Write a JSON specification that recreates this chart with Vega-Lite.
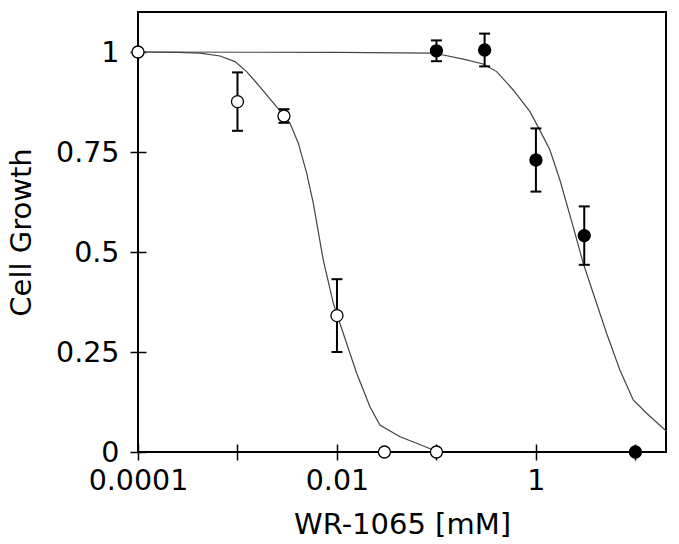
{
  "$schema": "https://vega.github.io/schema/vega-lite/v6.json",
  "width": 528,
  "height": 440,
  "autosize": {"type": "none"},
  "padding": {"left": 138, "top": 12, "right": 13, "bottom": 92},
  "background": "white",
  "config": {
    "view": {"stroke": "black", "strokeWidth": 2},
    "font": "DejaVu Sans",
    "axis": {
      "labelFont": "DejaVu Sans",
      "labelFontSize": 28.5,
      "labelColor": "black",
      "titleFont": "DejaVu Sans",
      "titleFontSize": 29,
      "titleFontWeight": "normal",
      "titleColor": "black",
      "tickColor": "black",
      "tickWidth": 1.5,
      "tickSize": 16,
      "offset": -8,
      "domain": false,
      "grid": false,
      "labelOverlap": false,
      "labelFlush": false
    }
  },
  "datasets": {
    "curves": [
      {"series": "open", "conc": 0.0001, "growth": 1.0},
      {"series": "open", "conc": 0.00025, "growth": 0.999},
      {"series": "open", "conc": 0.00042, "growth": 0.997},
      {"series": "open", "conc": 0.000667, "growth": 0.99},
      {"series": "open", "conc": 0.000944, "growth": 0.976},
      {"series": "open", "conc": 0.001236, "growth": 0.951},
      {"series": "open", "conc": 0.001683, "growth": 0.913},
      {"series": "open", "conc": 0.002477, "growth": 0.863},
      {"series": "open", "conc": 0.003373, "growth": 0.822},
      {"series": "open", "conc": 0.00409, "growth": 0.772},
      {"series": "open", "conc": 0.00496, "growth": 0.697},
      {"series": "open", "conc": 0.00578, "growth": 0.622},
      {"series": "open", "conc": 0.00728, "growth": 0.48},
      {"series": "open", "conc": 0.00918, "growth": 0.372},
      {"series": "open", "conc": 0.01156, "growth": 0.297},
      {"series": "open", "conc": 0.01578, "growth": 0.197},
      {"series": "open", "conc": 0.02146, "growth": 0.113},
      {"series": "open", "conc": 0.027, "growth": 0.0675},
      {"series": "open", "conc": 0.043, "growth": 0.038},
      {"series": "open", "conc": 0.0632, "growth": 0.022},
      {"series": "open", "conc": 0.1, "growth": 0.002},
      {"series": "filled", "conc": 0.0001, "growth": 1.0},
      {"series": "filled", "conc": 0.01, "growth": 0.999},
      {"series": "filled", "conc": 0.0861, "growth": 0.997},
      {"series": "filled", "conc": 0.117, "growth": 0.9925},
      {"series": "filled", "conc": 0.186, "growth": 0.982},
      {"series": "filled", "conc": 0.295, "growth": 0.97},
      {"series": "filled", "conc": 0.403, "growth": 0.951},
      {"series": "filled", "conc": 0.591, "growth": 0.905},
      {"series": "filled", "conc": 0.871, "growth": 0.851},
      {"series": "filled", "conc": 1.097, "growth": 0.804},
      {"series": "filled", "conc": 1.383, "growth": 0.755},
      {"series": "filled", "conc": 1.742, "growth": 0.68},
      {"series": "filled", "conc": 2.371, "growth": 0.563},
      {"series": "filled", "conc": 2.985, "growth": 0.472},
      {"series": "filled", "conc": 3.764, "growth": 0.397},
      {"series": "filled", "conc": 5.13, "growth": 0.297},
      {"series": "filled", "conc": 6.98, "growth": 0.205},
      {"series": "filled", "conc": 9.51, "growth": 0.13},
      {"series": "filled", "conc": 12.95, "growth": 0.097},
      {"series": "filled", "conc": 20.3, "growth": 0.053}
    ],
    "points": [
      {"series": "open", "conc": 0.0001, "growth": 1.0, "lo": 1.0, "hi": 1.0},
      {"series": "open", "conc": 0.001, "growth": 0.876, "lo": 0.803, "hi": 0.949},
      {"series": "open", "conc": 0.00293, "growth": 0.84, "lo": 0.823, "hi": 0.857},
      {"series": "open", "conc": 0.01, "growth": 0.341, "lo": 0.25, "hi": 0.432},
      {"series": "open", "conc": 0.03, "growth": 0.0, "lo": 0.0, "hi": 0.0},
      {"series": "open", "conc": 0.1, "growth": 0.0, "lo": 0.0, "hi": 0.0},
      {"series": "filled", "conc": 0.1, "growth": 1.003, "lo": 0.977, "hi": 1.029},
      {"series": "filled", "conc": 0.305, "growth": 1.005, "lo": 0.964, "hi": 1.046},
      {"series": "filled", "conc": 1.0, "growth": 0.73, "lo": 0.651, "hi": 0.809},
      {"series": "filled", "conc": 3.06, "growth": 0.541, "lo": 0.468, "hi": 0.614},
      {"series": "filled", "conc": 10.0, "growth": 0.0, "lo": 0.0, "hi": 0.0}
    ]
  },
  "layer": [
    {
      "data": {"name": "curves"},
      "mark": {"type": "line", "color": "#444444", "strokeWidth": 1.2, "clip": true},
      "encoding": {
        "x": {
          "field": "conc",
          "type": "quantitative",
          "scale": {"type": "log", "domain": [0.0001, 20.3], "nice": false},
          "axis": {
            "title": "WR-1065 [mM]",
            "values": [0.0001, 0.001, 0.01, 0.1, 1, 10],
            "labelExpr": "datum.value == 0.0001 ? '0.0001' : (datum.value == 0.01 ? '0.01' : (datum.value == 1 ? '1' : ''))",
            "labelPadding": 6,
            "titlePadding": 16
          }
        },
        "y": {
          "field": "growth",
          "type": "quantitative",
          "title": "Cell Growth",
          "scale": {"domain": [0, 1.1], "nice": false, "zero": false},
          "axis": {
            "values": [0, 0.25, 0.5, 0.75, 1],
            "format": "~g",
            "labelPadding": 11,
            "titlePadding": 19
          }
        },
        "detail": {"field": "series"}
      }
    },
    {
      "data": {"name": "points"},
      "transform": [{"filter": "datum.hi > datum.lo"}],
      "mark": {"type": "rule", "color": "black", "strokeWidth": 2},
      "encoding": {
        "x": {"field": "conc", "type": "quantitative"},
        "y": {"field": "lo", "type": "quantitative", "title": "Cell Growth"},
        "y2": {"field": "hi"}
      }
    },
    {
      "data": {"name": "points"},
      "transform": [{"filter": "datum.hi > datum.lo"}],
      "mark": {"type": "tick", "orient": "horizontal", "color": "black", "size": 11, "thickness": 2, "opacity": 1},
      "encoding": {
        "x": {"field": "conc", "type": "quantitative"},
        "y": {"field": "lo", "type": "quantitative", "title": "Cell Growth"}
      }
    },
    {
      "data": {"name": "points"},
      "transform": [{"filter": "datum.hi > datum.lo"}],
      "mark": {"type": "tick", "orient": "horizontal", "color": "black", "size": 11, "thickness": 2, "opacity": 1},
      "encoding": {
        "x": {"field": "conc", "type": "quantitative"},
        "y": {"field": "hi", "type": "quantitative", "title": "Cell Growth"}
      }
    },
    {
      "data": {"name": "points"},
      "mark": {"type": "point", "filled": true, "size": 145, "stroke": "black", "strokeWidth": 1.3, "opacity": 1},
      "encoding": {
        "x": {"field": "conc", "type": "quantitative"},
        "y": {"field": "growth", "type": "quantitative", "title": "Cell Growth"},
        "fill": {
          "field": "series",
          "type": "nominal",
          "scale": {"domain": ["open", "filled"], "range": ["white", "black"]},
          "legend": null
        }
      }
    }
  ]
}
